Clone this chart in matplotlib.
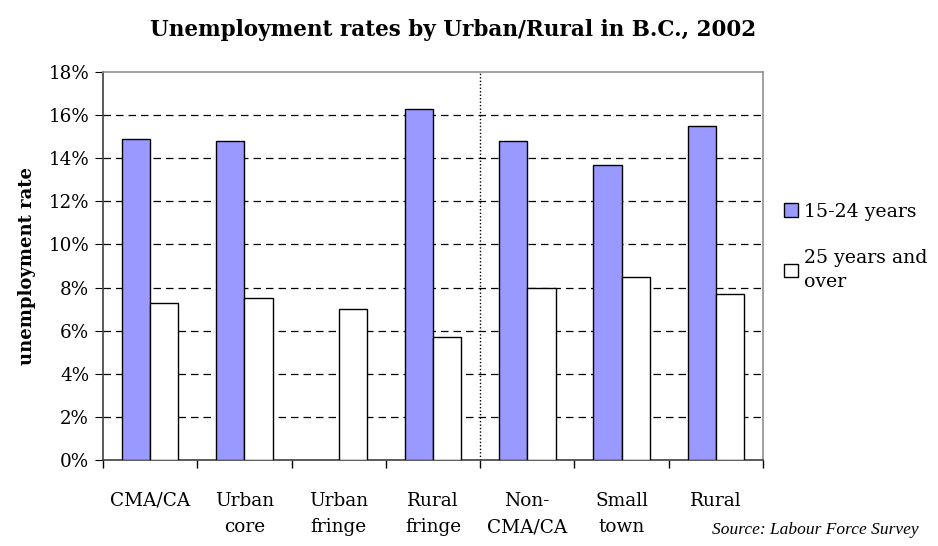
import matplotlib as mpl
import matplotlib.pyplot as plt
import numpy as np
from matplotlib.patches import Patch

mpl.rcParams["font.family"] = "DejaVu Serif"

# -------------------------------------
# Data
# -------------------------------------

categories = [
    "CMA/CA",
    "Urban\ncore",
    "Urban\nfringe",
    "Rural\nfringe",
    "Non-\nCMA/CA",
    "Small\ntown",
    "Rural",
]
youth_rate = [14.9, 14.8, np.nan, 16.3, 14.8, 13.7, 15.5]  # 15-24 years
adult_rate = [7.3, 7.5, 7.0, 5.7, 8.0, 8.5, 7.7]  # 25 years and over
y_ticks = np.arange(0, 19, 2)

# -------------------------------------
# Plotting
# -------------------------------------

fig = plt.figure(figsize=(9.38, 5.46), dpi=100)
ax = fig.add_axes([0.1098, 0.1575, 0.7036, 0.7105])

x = np.arange(len(categories))
bar_width = 0.3
ax.bar(x - bar_width / 2, youth_rate, width=bar_width, color="#9999ff",
       edgecolor="black", linewidth=1, zorder=3)
ax.bar(x + bar_width / 2, adult_rate, width=bar_width, color="white",
       edgecolor="black", linewidth=1, zorder=3)

# divider between CMA/CA breakdown and Non-CMA/CA breakdown
ax.axvline(3.5, color="black", linestyle=(0, (1, 1.5)), linewidth=1, zorder=2)

ax.set_xlim(-0.5, len(categories) - 0.5)
ax.set_ylim(0, 18)
ax.set_yticks(y_ticks)
ax.set_yticklabels([f"{v}%" for v in y_ticks])
for v in y_ticks[1:-1]:
    ax.axhline(v, color="black", linestyle=(0, (6, 4)), linewidth=0.9, zorder=1)

# ticks at the group boundaries, labels at the group centres
ax.set_xticks(np.arange(-0.5, len(categories), 1))
ax.set_xticklabels([])
ax.set_xticks(x, minor=True)
ax.set_xticklabels(categories, minor=True, fontsize=13.3, linespacing=1.6,
                   va="top")
ax.tick_params(axis="x", which="minor", length=0, pad=23)
ax.tick_params(axis="x", which="major", length=6, direction="out", width=1)
ax.tick_params(axis="y", length=6, direction="out", labelsize=13.2, pad=4)

for side in ["left", "bottom"]:
    ax.spines[side].set_color("#404040")
    ax.spines[side].set_linewidth(1.2)
for side in ["top", "right"]:
    ax.spines[side].set_color("#909090")
    ax.spines[side].set_linewidth(1.2)

ax.set_ylabel("unemployment rate", fontsize=13, fontweight="bold",
              labelpad=9)
fig.suptitle("Unemployment rates by Urban/Rural in B.C., 2002",
             fontsize=15.5, fontweight="bold", x=0.4835, y=0.965)

handles = [
    Patch(facecolor="#9999ff", edgecolor="black", linewidth=1),
    Patch(facecolor="white", edgecolor="black", linewidth=1),
]
leg = fig.legend(handles, ["15-24 years", "25 years and\nover"],
                 loc="upper left", bbox_to_anchor=(0.818, 0.66),
                 frameon=False, fontsize=13.6, handlelength=0.75,
                 handleheight=0.75, handletextpad=0.3, labelspacing=1.5)
for t in leg.get_texts():
    t.set_linespacing(1.45)

fig.text(0.979, 0.015, "Source: Labour Force Survey", ha="right",
         va="bottom", fontsize=12.5, style="italic",
         family="Liberation Serif")

plt.savefig("out.png", dpi=100)
